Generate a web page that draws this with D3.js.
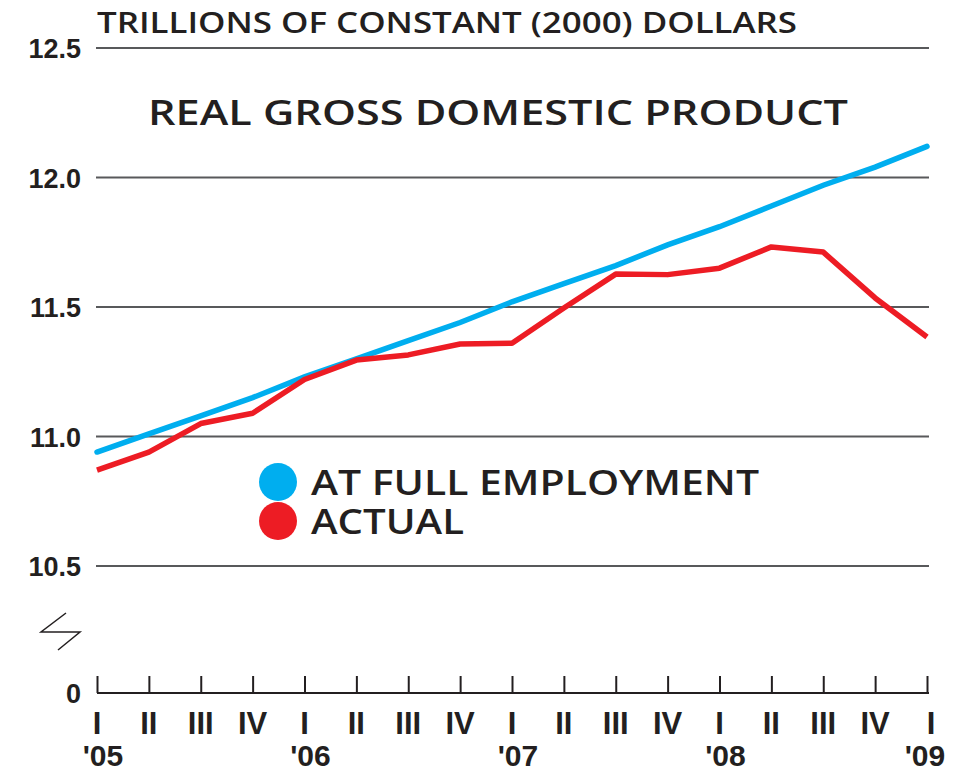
<!DOCTYPE html>
<html>
<head>
<meta charset="utf-8">
<script src="https://cdn.jsdelivr.net/npm/d3@7"></script>
<style>
  body { margin: 0; background: #fff; }
  svg text { font-family: "Liberation Sans", Arial, sans-serif; fill: #231f20; }
</style>
</head>
<body>
<div id="chart"></div>
<script>
// quarters from 2005 Q1 to 2009 Q1
const quarters = ["I", "II", "III", "IV", "I", "II", "III", "IV", "I", "II", "III", "IV", "I", "II", "III", "IV", "I"];
const yearLabels = [[0, "'05"], [4, "'06"], [8, "'07"], [12, "'08"], [16, "'09"]];

// trillions of 2000 dollars
const fullEmployment = [10.94, 11.01, 11.08, 11.15, 11.23, 11.30, 11.37, 11.44, 11.52, 11.59, 11.66, 11.74, 11.81, 11.89, 11.97, 12.04, 12.12];
const actual = [10.87, 10.94, 11.05, 11.09, 11.22, 11.295, 11.315, 11.357, 11.36, 11.496, 11.627, 11.625, 11.65, 11.732, 11.712, 11.535, 11.384];

const yTicks = [10.5, 11.0, 11.5, 12.0, 12.5];

const width = 956, height = 772;

let svg = d3.select("#chart")
    .append("svg")
    .attr("width", width)
    .attr("height", height);

// x scale over quarter index
let x = d3.scaleLinear()
    .domain([0, quarters.length - 1])
    .range([97, 927]);

// y scale for the broken part of the axis
let y = d3.scaleLinear()
    .domain([10.5, 12.5])
    .range([566, 48]);

const baseY = 693;

// gridlines
svg.append("g")
    .selectAll("line")
    .data(yTicks)
    .enter()
    .append("line")
    .attr("x1", 96)
    .attr("x2", 929)
    .attr("y1", d => y(d))
    .attr("y2", d => y(d))
    .attr("stroke", "#58595b")
    .attr("stroke-width", 2);

// y labels
svg.append("g")
    .selectAll("text")
    .data(yTicks)
    .enter()
    .append("text")
    .attr("x", 81)
    .attr("y", d => y(d) + 10)
    .style("text-anchor", "end")
    .style("font-size", "27px")
    .style("font-weight", "bold")
    .text(d => d.toFixed(1));

svg.append("text")
    .attr("x", 81)
    .attr("y", baseY + 10)
    .style("text-anchor", "end")
    .style("font-size", "27px")
    .style("font-weight", "bold")
    .text("0");

// axis break mark
svg.append("path")
    .attr("d", "M 66 613 L 41 632 L 80 632 L 58 650")
    .attr("fill", "none")
    .attr("stroke", "#231f20")
    .attr("stroke-width", 1.5);

// bottom axis
let xAxis = d3.axisBottom(x)
    .tickValues(d3.range(quarters.length))
    .tickSize(-17)
    .tickFormat("");

svg.append("g")
    .attr("transform", `translate(0, ${baseY})`)
    .call(xAxis)
    .call(g => g.select(".domain").attr("stroke", "#231f20").attr("stroke-width", 2).attr("d", `M97,0H929`))
    .call(g => g.selectAll(".tick line").attr("stroke", "#231f20").attr("stroke-width", 2));

svg.append("g")
    .selectAll("text")
    .data(quarters)
    .enter()
    .append("text")
    .attr("x", (d, i) => x(i) + (i === 16 ? 4 : 0))
    .attr("y", 734)
    .style("text-anchor", "middle")
    .style("font-size", "31px")
    .style("font-weight", "bold")
    .text(d => d);

svg.append("g")
    .selectAll("text")
    .data(yearLabels)
    .enter()
    .append("text")
    .attr("x", d => x(d[0]) + (d[0] === 16 ? -2 : 6))
    .attr("y", 766)
    .style("text-anchor", "middle")
    .style("font-size", "30px")
    .style("font-weight", "bold")
    .text(d => d[1]);

// titles
svg.append("text")
    .attr("x", 97)
    .attr("y", 33)
    .attr("textLength", 700)
    .attr("lengthAdjust", "spacingAndGlyphs")
    .style("font-family", "'Open Sans', sans-serif")
    .style("font-size", "29px")
    .style("font-weight", 600)
    .text("TRILLIONS OF CONSTANT (2000) DOLLARS");

svg.append("text")
    .attr("x", 148)
    .attr("y", 125)
    .attr("textLength", 700)
    .attr("lengthAdjust", "spacingAndGlyphs")
    .style("font-family", "'Open Sans', sans-serif")
    .style("font-size", "35px")
    .style("font-weight", 600)
    .text("REAL GROSS DOMESTIC PRODUCT");

// lines
let line = d3.line()
    .x((d, i) => x(i))
    .y(d => y(d));

svg.append("path")
    .datum(fullEmployment)
    .attr("d", line)
    .attr("fill", "none")
    .attr("stroke", "#00aeef")
    .attr("stroke-width", 5.5)
    .attr("stroke-linecap", "round");

svg.append("path")
    .datum(actual)
    .attr("d", line)
    .attr("fill", "none")
    .attr("stroke", "#ed1c24")
    .attr("stroke-width", 5.5)
    .attr("stroke-linejoin", "round");

// legend
const legendItems = [["AT FULL EMPLOYMENT", "#00aeef", 448], ["ACTUAL", "#ed1c24", 153]];
let legend = svg.append("g")
    .selectAll("g")
    .data(legendItems)
    .enter()
    .append("g")
    .attr("transform", (d, i) => `translate(0, ${482 + i * 39})`);

legend.append("circle")
    .attr("cx", 278)
    .attr("cy", 0)
    .attr("r", 19)
    .attr("fill", d => d[1]);

legend.append("text")
    .attr("x", 311)
    .attr("y", 13)
    .attr("textLength", d => d[2])
    .attr("lengthAdjust", "spacingAndGlyphs")
    .style("font-family", "'Open Sans', sans-serif")
    .style("font-size", "35px")
    .style("font-weight", 600)
    .text(d => d[0]);
</script>
</body>
</html>
